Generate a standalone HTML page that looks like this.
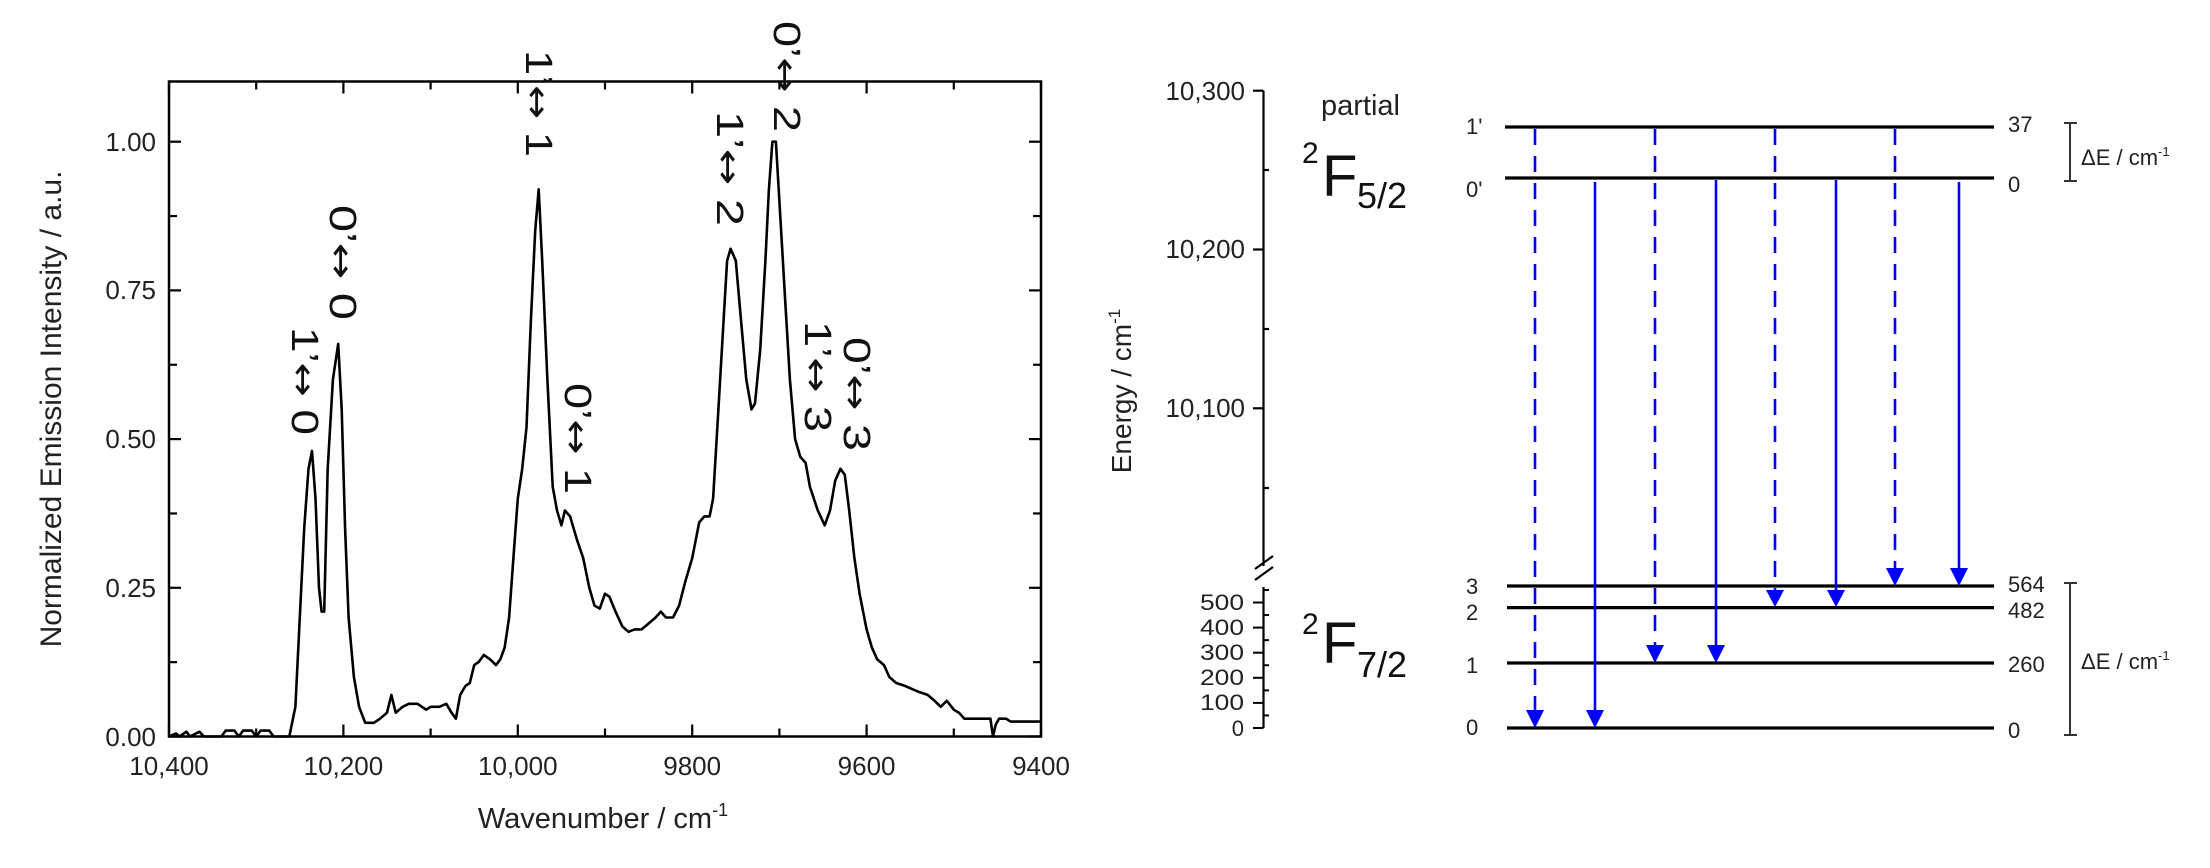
<!DOCTYPE html>
<html><head><meta charset="utf-8">
<style>
html,body{margin:0;padding:0;background:#fff;}
svg{display:block;font-family:"Liberation Sans",Arial,sans-serif;}
.ar{font-family:"DejaVu Sans",sans-serif;font-size:34px;}
</style></head>
<body>
<svg id="s" width="2210" height="868" viewBox="0 0 2210 868" xmlns="http://www.w3.org/2000/svg">
<rect width="2210" height="868" fill="#fff"/>
<!-- LEFT PLOT -->
<g stroke="#000" stroke-width="2.5" fill="none">
<rect x="169" y="81.5" width="872" height="655"/>
</g>
<g id="ticks" stroke="#000" stroke-width="2.2"></g>
<path id="curve" fill="none" stroke="#000" stroke-width="2.6" stroke-linejoin="round" d=""/>
<g font-size="26" fill="#222" text-anchor="end">
<text x="156" y="151">1.00</text>
<text x="156" y="299">0.75</text>
<text x="156" y="448">0.50</text>
<text x="156" y="597">0.25</text>
<text x="156" y="746">0.00</text>
</g>
<g font-size="26" fill="#222" text-anchor="middle">
<text x="169" y="775">10,400</text>
<text x="343.4" y="775">10,200</text>
<text x="517.8" y="775">10,000</text>
<text x="692.2" y="775">9800</text>
<text x="866.6" y="775">9600</text>
<text x="1041" y="775">9400</text>
</g>
<text x="603" y="828" font-size="29" fill="#222" text-anchor="middle">Wavenumber / cm<tspan font-size="18" dy="-12">-1</tspan></text>
<text transform="translate(61,409) rotate(-90)" font-size="30" fill="#222" text-anchor="middle">Normalized Emission Intensity / a.u.</text>
<!-- annotations rotated 90deg clockwise -->
<g font-size="38" fill="#111">
<text transform="translate(292,327) rotate(90)" textLength="108" lengthAdjust="spacingAndGlyphs">1’<tspan class="ar">↔</tspan> 0</text>
<text transform="translate(330,205) rotate(90)" textLength="115" lengthAdjust="spacingAndGlyphs">0’<tspan class="ar">↔</tspan> 0</text>
<text transform="translate(526,50) rotate(90)" textLength="107" lengthAdjust="spacingAndGlyphs">1’<tspan class="ar">↔</tspan> 1</text>
<text transform="translate(565,383) rotate(90)" textLength="111" lengthAdjust="spacingAndGlyphs">0’<tspan class="ar">↔</tspan> 1</text>
<text transform="translate(717,111) rotate(90)" textLength="115" lengthAdjust="spacingAndGlyphs">1’<tspan class="ar">↔</tspan> 2</text>
<text transform="translate(774,21) rotate(90)" textLength="111" lengthAdjust="spacingAndGlyphs">0’<tspan class="ar">↔</tspan> 2</text>
<text transform="translate(805,321) rotate(90)" textLength="111" lengthAdjust="spacingAndGlyphs">1’<tspan class="ar">↔</tspan> 3</text>
<text transform="translate(844,337) rotate(90)" textLength="114" lengthAdjust="spacingAndGlyphs">0’<tspan class="ar">↔</tspan> 3</text>
</g>

<!-- RIGHT DIAGRAM -->
<g stroke="#000" stroke-width="2.2" fill="none">
<line x1="1263.5" y1="90.7" x2="1263.5" y2="566"/>
<line x1="1263.5" y1="587" x2="1263.5" y2="728"/>
<line x1="1253" y1="90.7" x2="1263.5" y2="90.7"/>
<line x1="1253" y1="249.5" x2="1263.5" y2="249.5"/>
<line x1="1253" y1="408.3" x2="1263.5" y2="408.3"/>
<line x1="1263.5" y1="170" x2="1269" y2="170"/>
<line x1="1263.5" y1="329" x2="1269" y2="329"/>
<line x1="1263.5" y1="488" x2="1269" y2="488"/>
<line x1="1255" y1="569" x2="1273" y2="556"/>
<line x1="1255" y1="580" x2="1273" y2="567"/>
</g>
<g id="lticks" stroke="#000" stroke-width="2"></g>
<g font-size="26" fill="#222" text-anchor="end">
<text x="1245" y="100">10,300</text>
<text x="1245" y="258">10,200</text>
<text x="1245" y="417">10,100</text>
</g>
<g font-size="22" fill="#222" text-anchor="end">
<text x="1244" y="610" textLength="44" lengthAdjust="spacingAndGlyphs">500</text>
<text x="1244" y="635" textLength="44" lengthAdjust="spacingAndGlyphs">400</text>
<text x="1244" y="660" textLength="44" lengthAdjust="spacingAndGlyphs">300</text>
<text x="1244" y="685" textLength="44" lengthAdjust="spacingAndGlyphs">200</text>
<text x="1244" y="710" textLength="44" lengthAdjust="spacingAndGlyphs">100</text>
<text x="1244" y="736">0</text>
</g>
<text transform="translate(1131,391) rotate(-90)" font-size="28" fill="#222" text-anchor="middle">Energy / cm<tspan font-size="17" dy="-11">-1</tspan></text>
<text x="1321" y="115" font-size="29" fill="#222">partial</text>
<text x="1302" y="163" font-size="30" fill="#111">2</text>
<text x="1322" y="196" font-size="58" fill="#111">F</text>
<text x="1357" y="208" font-size="36" fill="#111">5/2</text>
<text x="1302" y="634" font-size="30" fill="#111">2</text>
<text x="1322" y="663" font-size="58" fill="#111">F</text>
<text x="1357" y="677" font-size="36" fill="#111">7/2</text>

<!-- levels -->
<g stroke="#000" stroke-width="3.2">
<line x1="1505" y1="127" x2="1994" y2="127"/>
<line x1="1505" y1="178" x2="1994" y2="178"/>
<line x1="1507" y1="586" x2="1994" y2="586"/>
<line x1="1507" y1="607.6" x2="1994" y2="607.6"/>
<line x1="1507" y1="663" x2="1994" y2="663"/>
<line x1="1507" y1="728" x2="1994" y2="728"/>
</g>
<g font-size="22" fill="#222">
<text x="1466" y="134">1'</text>
<text x="1466" y="197">0'</text>
<text x="1466" y="594">3</text>
<text x="1466" y="620">2</text>
<text x="1466" y="673">1</text>
<text x="1466" y="735">0</text>
<text x="2008" y="132">37</text>
<text x="2008" y="192">0</text>
<text x="2008" y="592">564</text>
<text x="2008" y="618">482</text>
<text x="2008" y="672">260</text>
<text x="2008" y="738">0</text>
</g>
<g stroke="#333" stroke-width="2" fill="none">
<line x1="2070" y1="123" x2="2070" y2="181"/>
<line x1="2064" y1="123" x2="2077" y2="123"/>
<line x1="2064" y1="181" x2="2077" y2="181"/>
<line x1="2070" y1="583" x2="2070" y2="735"/>
<line x1="2064" y1="583" x2="2077" y2="583"/>
<line x1="2064" y1="735" x2="2077" y2="735"/>
</g>
<text x="2081" y="165" font-size="22" fill="#222">ΔE / cm<tspan font-size="13" dy="-9">-1</tspan></text>
<text x="2081" y="669" font-size="22" fill="#222">ΔE / cm<tspan font-size="13" dy="-9">-1</tspan></text>

<!-- arrows -->
<g stroke="#0000ff" stroke-width="2.6" fill="none">
<line x1="1535" y1="129" x2="1535" y2="712" stroke-dasharray="16,11"/>
<line x1="1595" y1="182" x2="1595" y2="712"/>
<line x1="1655" y1="129" x2="1655" y2="647" stroke-dasharray="16,11"/>
<line x1="1716" y1="180" x2="1716" y2="647"/>
<line x1="1775" y1="129" x2="1775" y2="591" stroke-dasharray="16,11"/>
<line x1="1836" y1="180" x2="1836" y2="591"/>
<line x1="1895" y1="129" x2="1895" y2="570" stroke-dasharray="16,11"/>
<line x1="1959" y1="182" x2="1959" y2="570"/>
</g>
<g fill="#0000ff">
<polygon points="1526,710 1544,710 1535,728"/>
<polygon points="1586,710 1604,710 1595,728"/>
<polygon points="1646,645 1664,645 1655,663"/>
<polygon points="1707,645 1725,645 1716,663"/>
<polygon points="1766,590 1784,590 1775,607"/>
<polygon points="1827,590 1845,590 1836,607"/>
<polygon points="1886,568 1904,568 1895,586"/>
<polygon points="1950,568 1968,568 1959,586"/>
</g>
</svg>
<script>
var d=[10400,0,10392,0.005,10388,0,10380,0.008,10376,0,10365,0.008,10360,0,10340,0,10335,0.01,10325,0.01,10320,0,10315,0.01,10305,0.01,10300,0,10295,0.01,10285,0.01,10280,0,10262,0,10255,0.05,10250,0.2,10245,0.35,10240,0.45,10236,0.48,10232,0.4,10228,0.25,10225,0.21,10222,0.21,10218,0.45,10212,0.6,10206,0.66,10202,0.55,10198,0.35,10194,0.2,10188,0.1,10182,0.05,10175,0.023,10165,0.023,10158,0.03,10150,0.04,10145,0.07,10140,0.04,10132,0.05,10125,0.055,10115,0.055,10105,0.045,10100,0.05,10090,0.05,10082,0.055,10076,0.04,10071,0.03,10066,0.07,10060,0.085,10055,0.09,10050,0.12,10045,0.125,10039,0.137,10032,0.13,10025,0.12,10020,0.13,10015,0.15,10010,0.2,10005,0.3,10000,0.4,9995,0.45,9990,0.52,9985,0.7,9980,0.85,9976,0.92,9972,0.8,9966,0.6,9960,0.42,9955,0.38,9950,0.355,9946,0.38,9940,0.37,9932,0.33,9925,0.3,9918,0.25,9912,0.22,9906,0.215,9900,0.24,9895,0.235,9888,0.21,9880,0.185,9873,0.176,9866,0.18,9858,0.18,9850,0.19,9842,0.2,9836,0.21,9830,0.2,9822,0.2,9815,0.22,9808,0.26,9800,0.3,9792,0.36,9786,0.37,9780,0.37,9776,0.4,9770,0.55,9764,0.7,9760,0.8,9756,0.82,9750,0.8,9744,0.7,9738,0.6,9732,0.55,9728,0.56,9722,0.65,9716,0.8,9712,0.92,9708,1.0,9704,1.0,9700,0.9,9694,0.75,9688,0.6,9682,0.5,9676,0.47,9670,0.46,9665,0.42,9656,0.38,9648,0.355,9642,0.38,9636,0.43,9630,0.45,9625,0.44,9620,0.38,9614,0.3,9608,0.24,9600,0.18,9594,0.15,9588,0.13,9580,0.12,9574,0.1,9566,0.09,9556,0.085,9548,0.08,9540,0.075,9530,0.07,9522,0.06,9515,0.05,9508,0.06,9500,0.045,9494,0.04,9488,0.03,9470,0.03,9458,0.03,9455,0,9452,0.02,9448,0.03,9440,0.03,9435,0.025,9420,0.025,9400,0.025];
var p="";
for(var i=0;i<d.length;i+=2){var x=169+(10400-d[i])*0.872,y=736.5-d[i+1]*594.8;p+=(i?"L":"M")+x.toFixed(1)+" "+y.toFixed(1);}
document.getElementById("curve").setAttribute("d",p);
var NS="http://www.w3.org/2000/svg";
function ln(g,a,b,c,e){var l=document.createElementNS(NS,"line");l.setAttribute("x1",a);l.setAttribute("y1",b);l.setAttribute("x2",c);l.setAttribute("y2",e);g.appendChild(l);}
var g=document.getElementById("ticks");
for(var k=0;k<=10;k++){var x=169+k*87.2,L=(k%2==0)?12:8;ln(g,x,736.5,x,736.5-L);ln(g,x,81.5,x,81.5+L);}
for(var k=0;k<=8;k++){var y=736.5-k*74.35,L=(k%2==0)?12:8;ln(g,169,y,169+L,y);ln(g,1041,y,1041-L,y);}
var h=document.getElementById("lticks");
for(var v=0;v<=550;v+=50){var y=728-v*0.251;if(v%100==0)ln(h,1253,y,1263.5,y);else ln(h,1263.5,y,1269,y);}
</script>
</body></html>
